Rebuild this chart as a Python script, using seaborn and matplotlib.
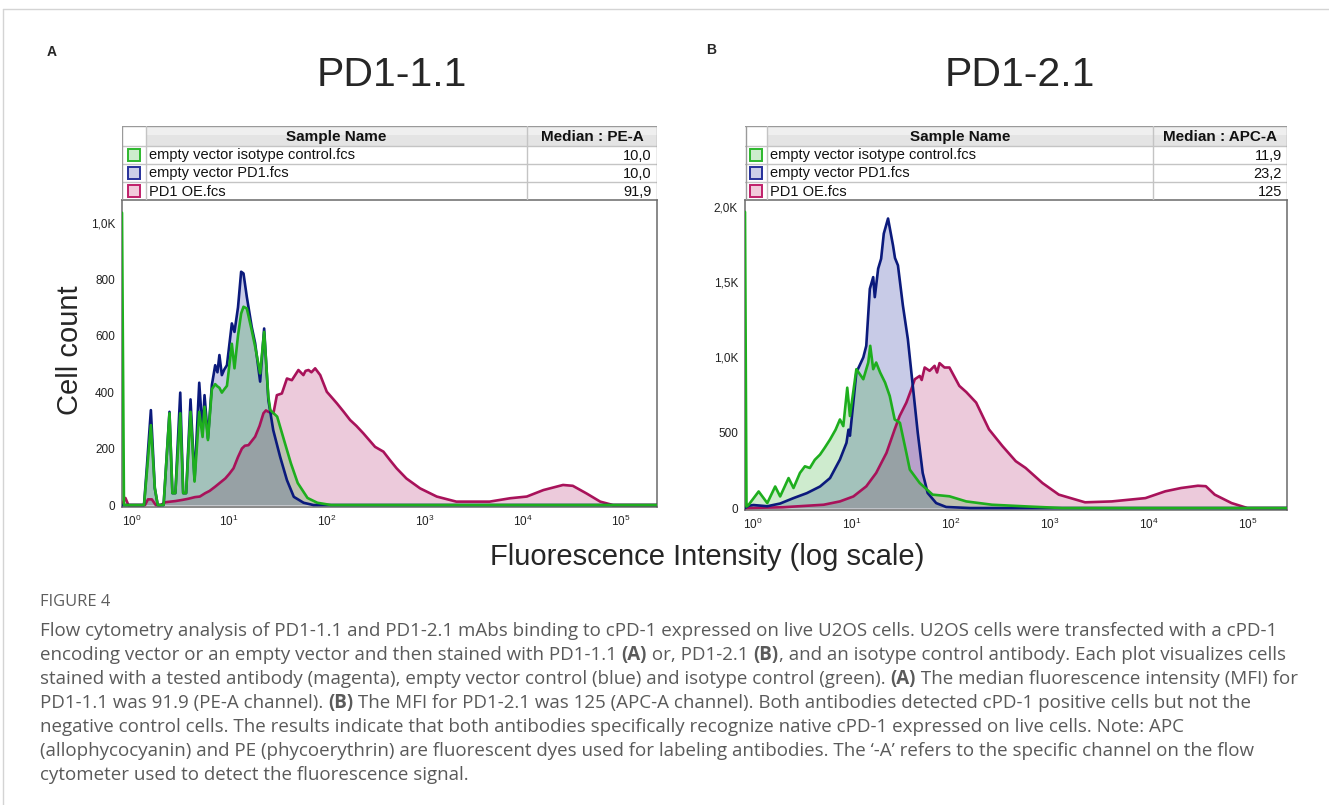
import numpy as np
import pandas as pd
import seaborn as sns
import matplotlib
matplotlib.use("Agg")
import matplotlib.pyplot as plt
from matplotlib.patches import Rectangle

sns.set_theme(style="white")
plt.rcParams["font.family"] = ["Liberation Sans", "DejaVu Sans"]
plt.rcParams["mathtext.default"] = "regular"

W, H = 1329, 805

# ---------------- data: log10 fluorescence vs cell count ----------------
# panel A, PD1-1.1 (PE-A)
A_MAG_X = [-0.095, -0.06, -0.03, 0.14, 0.17, 0.21, 0.25, 0.30, 0.35, 0.45, 0.52, 0.58, 0.65, 0.70, 0.755,
           0.80, 0.857, 0.91, 0.96, 1.00, 1.044, 1.09, 1.13, 1.16, 1.197, 1.265, 1.31, 1.35, 1.375, 1.40,
           1.452, 1.487, 1.538, 1.59, 1.64, 1.707, 1.758, 1.78, 1.81, 1.84, 1.878, 1.93, 1.997, 2.05, 2.10,
           2.17, 2.235, 2.30, 2.37, 2.43, 2.49, 2.575, 2.64, 2.71, 2.81, 2.95, 3.12, 3.32, 3.66, 3.87, 4.04,
           4.21, 4.41, 4.51, 4.65, 4.79, 4.92, 5.40]
A_MAG_Y = [0, 25, 0, 0, 20, 20, 0, 0, 10, 14, 18, 22, 28, 30, 42,
           50, 65, 80, 94, 110, 130, 170, 200, 210, 212, 242, 280, 325, 335, 330,
           325, 389, 395, 448, 442, 478, 460, 475, 478, 470, 484, 460, 401, 380, 360,
           330, 301, 280, 254, 230, 206, 189, 160, 130, 94, 59, 30, 12, 12, 24, 30,
           53, 71, 68, 41, 12, 0, 0]

A_BLUE_X = [-0.095, 0.13, 0.16, 0.20, 0.24, 0.27, 0.33, 0.39, 0.42, 0.45, 0.50, 0.53, 0.56, 0.605, 0.646,
            0.694, 0.728, 0.748, 0.783, 0.823, 0.857, 0.88, 0.90, 0.925, 0.95, 0.977, 1.027, 1.054, 1.09,
            1.122, 1.146, 1.18, 1.23, 1.265, 1.316, 1.357, 1.40, 1.45, 1.52, 1.59, 1.66, 1.76, 1.86, 5.40]
A_BLUE_Y = [0, 0, 140, 336, 60, 0, 0, 330, 42, 42, 398, 42, 42, 374, 88,
            433, 255, 389, 236, 425, 495, 470, 531, 460, 480, 495, 643, 613, 700,
            826, 820, 737, 631, 573, 437, 625, 372, 265, 171, 88, 29, 8, 0, 0]

A_GREEN_X = [-0.095, -0.075, 0.13, 0.16, 0.20, 0.24, 0.27, 0.33, 0.39, 0.42, 0.45, 0.50, 0.53, 0.56, 0.605,
             0.646, 0.694, 0.728, 0.748, 0.783, 0.823, 0.857, 0.88, 0.90, 0.925, 0.95, 0.977, 1.027, 1.054,
             1.09, 1.122, 1.146, 1.18, 1.23, 1.265, 1.316, 1.357, 1.40, 1.42, 1.49, 1.56, 1.63, 1.70, 1.80,
             1.90, 2.04, 5.40]
A_GREEN_Y = [1035, 0, 0, 120, 283, 60, 0, 0, 325, 42, 42, 325, 42, 42, 330,
             83, 330, 241, 348, 230, 410, 428, 420, 415, 398, 410, 422, 571, 484,
             600, 678, 702, 696, 619, 561, 466, 613, 383, 336, 313, 230, 148, 78, 25,
             8, 0, 0]

# panel B, PD1-2.1 (APC-A)
B_MAG_X = [-0.075, 0.30, 0.72, 0.884, 1.02, 1.15, 1.25, 1.354, 1.437, 1.487, 1.555, 1.605, 1.64, 1.69, 1.71,
           1.74, 1.79, 1.84, 1.865, 1.89, 1.94, 1.99, 2.09, 2.16, 2.26, 2.39, 2.526, 2.66, 2.76, 2.93,
           3.095, 3.36, 3.63, 3.97, 4.17, 4.33, 4.50, 4.58, 4.67, 4.84, 5.0, 5.40]
B_MAG_Y = [0, 5, 22, 44, 77, 144, 233, 366, 522, 611, 700, 788, 855, 877, 850,
           933, 911, 944, 900, 962, 933, 933, 811, 770, 700, 522, 411, 311, 266, 166,
           89, 38, 44, 66, 111, 133, 148, 145, 89, 33, 0, 0]

B_BLUE_X = [-0.075, -0.04, 0.01, 0.15, 0.28, 0.415, 0.55, 0.683, 0.784, 0.884, 0.95, 0.97, 0.985, 1.05,
            1.12, 1.15, 1.186, 1.22, 1.236, 1.27, 1.30, 1.327, 1.37, 1.42, 1.44, 1.47, 1.52, 1.57, 1.62,
            1.67, 1.72, 1.77, 1.856, 1.957, 2.2, 5.40]
B_BLUE_Y = [0, 15, 20, 12, 30, 66, 99, 143, 199, 322, 433, 520, 480, 900,
            1000, 1077, 1455, 1533, 1400, 1589, 1655, 1822, 1922, 1744, 1660, 1611, 1344, 1122, 811,
            500, 233, 100, 33, 7, 0, 0]

B_GREEN_X = [-0.075, -0.06, -0.04, 0.063, 0.15, 0.23, 0.28, 0.365, 0.415, 0.48, 0.53, 0.58, 0.63, 0.683,
             0.73, 0.784, 0.84, 0.884, 0.918, 0.958, 0.985, 1.05, 1.12, 1.17, 1.19, 1.22, 1.25, 1.29, 1.34,
             1.387, 1.437, 1.49, 1.555, 1.59, 1.69, 1.82, 1.99, 2.16, 2.42, 2.76, 3.13, 5.40]
B_GREEN_Y = [1966, 10, 20, 110, 33, 143, 77, 199, 133, 233, 277, 266, 320, 355,
             400, 455, 520, 588, 544, 799, 611, 922, 855, 966, 1077, 922, 966, 900, 833,
             744, 588, 566, 366, 255, 166, 89, 78, 44, 22, 11, 0, 0]

SAMPLES = ["empty vector isotype control.fcs", "empty vector PD1.fcs", "PD1 OE.fcs"]
A_MEDIANS = ["10,0", "10,0", "91,9"]
B_MEDIANS = ["11,9", "23,2", "125"]

A_YTICKS = [0, 200, 400, 600, 800, 1000]
A_YLABELS = ["0", "200", "400", "600", "800", "1,0K"]
B_YTICKS = [0, 500, 1000, 1500, 2000]
B_YLABELS = ["0", "500", "1,0K", "1,5K", "2,0K"]
X_DECADES = [0, 1, 2, 3, 4, 5]

LINE = {"mag": "#a8125a", "blue": "#0b1a7c", "green": "#1eae1e"}
FILL = {"mag": "#a90e5b", "blue": "#051396", "green": "#20a420"}
SW_EDGE = {"green": "#2db82d", "blue": "#26309a", "mag": "#c0206a"}
SW_FACE = {"green": "#cdeccd", "blue": "#cbcde8", "mag": "#f1cbdb"}

CAPTION = [
    [("Flow cytometry analysis of PD1-1.1 and PD1-2.1 mAbs binding to cPD-1 expressed on live U2OS cells. "
      "U2OS cells were transfected with a cPD-1", False)],
    [("encoding vector or an empty vector and then stained with PD1-1.1 ", False), ("(A)", True),
     (" or, PD1-2.1 ", False), ("(B)", True),
     (", and an isotype control antibody. Each plot visualizes cells", False)],
    [("stained with a tested antibody (magenta), empty vector control (blue) and isotype control (green). ", False),
     ("(A)", True), (" The median fluorescence intensity (MFI) for", False)],
    [("PD1-1.1 was 91.9 (PE-A channel). ", False), ("(B)", True),
     (" The MFI for PD1-2.1 was 125 (APC-A channel). Both antibodies detected cPD-1 positive cells but not the", False)],
    [("negative control cells. The results indicate that both antibodies specifically recognize native cPD-1 "
      "expressed on live cells. Note: APC", False)],
    [("(allophycocyanin) and PE (phycoerythrin) are fluorescent dyes used for labeling antibodies. "
      "The \u2018-A\u2019 refers to the specific channel on the flow", False)],
    [("cytometer used to detect the fluorescence signal.", False)],
]

fig = plt.figure(figsize=(W / 100, H / 100), dpi=100)
fig.patch.set_facecolor("white")


def px_axes(left, top, right, bottom):
    return fig.add_axes([left / W, 1 - bottom / H, (right - left) / W, (bottom - top) / H])


def fx(x):
    return x / W


def fy(y):
    return 1 - y / H


def draw_hist(ax, curves, xlo, xhi, ylim, yticks, ylabels):
    for key, xs, ys in curves:
        df = pd.DataFrame({"intensity": np.power(10.0, xs), "count": ys})
        ax.fill_between(df["intensity"], 0, df["count"], color=FILL[key], alpha=0.22, lw=0, zorder=2)
        sns.lineplot(data=df, x="intensity", y="count", ax=ax, color=LINE[key], lw=1.9,
                     estimator=None, sort=False, zorder=3)
    ax.set_xscale("log")
    ax.set_xlim(10 ** xlo, 10 ** xhi)
    ax.set_ylim(*ylim)
    ax.set_xticks([10.0 ** d for d in X_DECADES])
    ax.set_xticklabels(["$10^{%d}$" % d for d in X_DECADES])
    ax.xaxis.set_minor_locator(matplotlib.ticker.NullLocator())
    ax.set_yticks(yticks)
    ax.set_yticklabels(ylabels)
    ax.tick_params(axis="both", length=0, labelsize=8.5, colors="#222222")
    ax.tick_params(axis="y", pad=5)
    ax.tick_params(axis="x", pad=5)
    ax.set_xlabel("")
    ax.set_ylabel("")
    ax.set_facecolor("white")
    for s in ax.spines.values():
        s.set_color("#6a6a6a")
        s.set_linewidth(1.1)
        s.set_visible(True)


def draw_table(left, right, divider, medians, med_title):
    top, bottom = 126, 200
    sw = 24 if left < 300 else 22
    ax = px_axes(left, top, right, bottom)
    w, h = right - left, bottom - top
    ax.set_xlim(0, w)
    ax.set_ylim(h, 0)
    ax.axis("off")
    hh = 20
    rh = (h - hh) / 3
    d = divider - left
    ax.add_patch(Rectangle((sw, 0), w - sw, hh, facecolor="#e4e4e4", edgecolor="none"))
    ax.add_patch(Rectangle((sw, 0), w - sw, hh * 0.45, facecolor="#efefef", edgecolor="none"))
    grid = "#c4c4c4"
    ax.plot([0, w], [0.5, 0.5], color="#9a9a9a", lw=1)
    ax.plot([0, w], [hh, hh], color=grid, lw=1)
    for i in range(1, 3):
        ax.plot([0, w], [hh + i * rh, hh + i * rh], color=grid, lw=1)
    ax.plot([0.5, 0.5], [0, h], color="#9a9a9a", lw=1)
    ax.plot([w - 0.5, w - 0.5], [0, h], color="#9a9a9a", lw=1)
    ax.plot([sw, sw], [0, h], color=grid, lw=1)
    ax.plot([d, d], [0, h], color=grid, lw=1)
    ax.text((sw + d) / 2, hh / 2 + 1, "Sample Name", ha="center", va="center",
            fontsize=11, fontweight="bold", color="#111111")
    ax.text((d + w) / 2, hh / 2 + 1, med_title, ha="center", va="center",
            fontsize=11, fontweight="bold", color="#111111")
    for i, (name, med, key) in enumerate(zip(SAMPLES, medians, ["green", "blue", "mag"])):
        yc = hh + (i + 0.5) * rh
        ax.add_patch(Rectangle((sw / 2 - 6, yc - 6), 12, 12, facecolor=SW_FACE[key],
                               edgecolor=SW_EDGE[key], lw=1.4))
        ax.text(sw + 3, yc + 0.5, name, ha="left", va="center", fontsize=10.5, color="#111111")
        ax.text(w - 5, yc + 0.5, med, ha="right", va="center", fontsize=10.5, color="#111111")


# panel A
axA = px_axes(122, 200, 657, 507)
draw_hist(axA, [("mag", A_MAG_X, A_MAG_Y), ("blue", A_BLUE_X, A_BLUE_Y), ("green", A_GREEN_X, A_GREEN_Y)],
          -0.095, 5.37, (-7, 1080), A_YTICKS, A_YLABELS)
draw_table(122, 657, 527, A_MEDIANS, "Median : PE-A")

# panel B
axB = px_axes(745, 200, 1287, 510)
draw_hist(axB, [("mag", B_MAG_X, B_MAG_Y), ("blue", B_BLUE_X, B_BLUE_Y), ("green", B_GREEN_X, B_GREEN_Y)],
          -0.075, 5.40, (-13, 2045), B_YTICKS, B_YLABELS)
draw_table(745, 1287, 1153, B_MEDIANS, "Median : APC-A")

# titles and labels
fig.text(fx(52), fy(52), "A", fontsize=10, fontweight="bold", ha="center", va="center")
fig.text(fx(711), fy(50), "B", fontsize=10, fontweight="bold", ha="center", va="center")
fig.text(fx(392), fy(86), "PD1-1.1", fontsize=29.5, ha="center", va="baseline")
fig.text(fx(1020), fy(86), "PD1-2.1", fontsize=29.5, ha="center", va="baseline")
fig.text(fx(70), fy(350), "Cell count", fontsize=21, rotation=90, ha="center", va="center")
fig.text(fx(707), fy(557), "Fluorescence Intensity (log scale)", fontsize=21, ha="center", va="center")

# frame lines of the page
fig.add_artist(plt.Line2D([fx(3), 1], [fy(9), fy(9)], color="#d4d4d4", lw=1))
fig.add_artist(plt.Line2D([fx(3), fx(3)], [fy(9), 0], color="#d4d4d4", lw=1))

# caption: font size chosen so the widest line fits the text block
renderer = fig.canvas.get_renderer()
cap_font = ["Open Sans", "DejaVu Sans"]
widest = 0
for parts in CAPTION:
    probe = fig.text(0, 0, "".join(t for t, _ in parts), fontsize=12, family=cap_font)
    widest = max(widest, probe.get_window_extent(renderer).width)
    probe.remove()
cap_size = 12 * 1250 / widest

fig.text(fx(40), fy(602), "FIGURE 4", fontsize=cap_size * 0.88, family=cap_font, color="#5e5e5e",
         ha="left", va="center")
for i, parts in enumerate(CAPTION):
    x = 40
    y = 631 + 24 * i
    for txt, bold in parts:
        t = fig.text(fx(x), fy(y), txt, fontsize=cap_size, family=cap_font, color="#5a5a5a",
                     fontweight="bold" if bold else "normal", ha="left", va="center")
        x += t.get_window_extent(renderer).width

fig.savefig("out.png", dpi=100, facecolor="white")
